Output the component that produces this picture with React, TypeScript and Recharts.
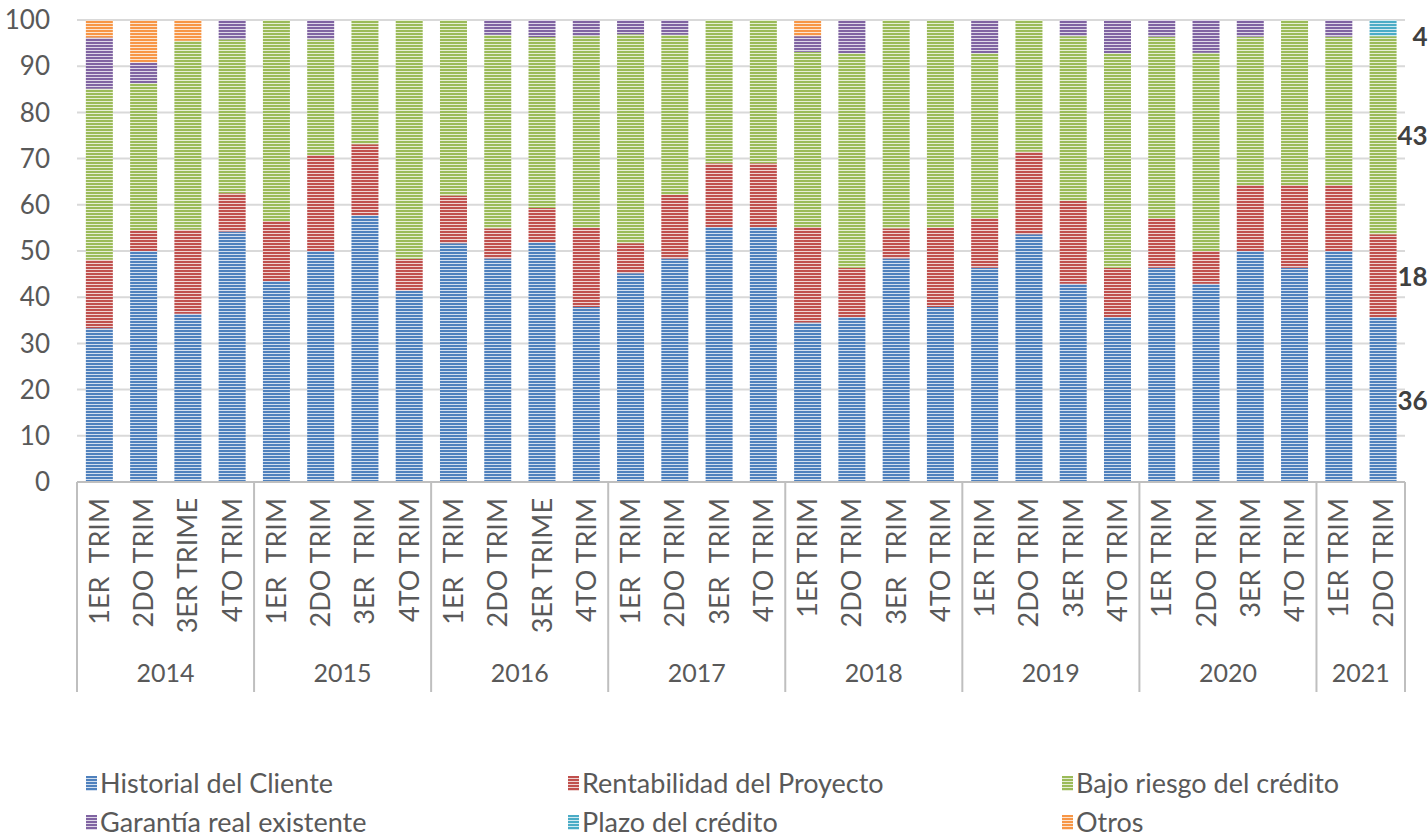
import React from 'react';
import { BarChart, Bar, XAxis, YAxis, CartesianGrid, LabelList } from 'recharts';

// quarter labels per bar (spacing kept as in the original sheet)
const quarters = [
  '1ER  TRIM', '2DO TRIM', '3ER TRIME', '4TO TRIM',
  '1ER  TRIM', '2DO TRIM', '3ER  TRIM', '4TO TRIM',
  '1ER  TRIM', '2DO TRIM', '3ER TRIME', '4TO TRIM',
  '1ER  TRIM', '2DO TRIM', '3ER  TRIM', '4TO TRIM',
  '1ER TRIM', '2DO TRIM', '3ER  TRIM', '4TO TRIM',
  '1ER TRIM', '2DO TRIM', '3ER TRIM', '4TO TRIM',
  '1ER TRIM', '2DO TRIM', '3ER TRIM', '4TO TRIM',
  '1ER TRIM', '2DO TRIM',
];

const years = [
  '2014', '2014', '2014', '2014',
  '2015', '2015', '2015', '2015',
  '2016', '2016', '2016', '2016',
  '2017', '2017', '2017', '2017',
  '2018', '2018', '2018', '2018',
  '2019', '2019', '2019', '2019',
  '2020', '2020', '2020', '2020',
  '2021', '2021',
];

const historial = [33.3, 50, 36.4, 54.2, 43.5, 50, 57.7, 41.4, 51.7, 48.4, 51.9, 37.9, 45.2, 48.4, 55.2, 55.2, 34.5, 35.7, 48.4, 37.9, 46.4, 53.6, 42.9, 35.7, 46.4, 42.9, 50, 46.4, 50, 35.7];
const rentabilidad = [14.8, 4.5, 18.2, 8.3, 13, 20.8, 15.4, 6.9, 10.3, 6.5, 7.4, 17.2, 6.5, 13.7, 13.8, 13.8, 20.7, 10.7, 6.5, 17.2, 10.7, 17.9, 17.9, 10.7, 10.7, 7.1, 14.3, 17.9, 14.3, 17.9];
const bajoRiesgo = [37, 31.8, 40.9, 33.3, 43.5, 25, 26.9, 51.7, 38, 41.9, 37, 41.4, 45.2, 34.7, 31, 31, 37.9, 46.4, 45.2, 44.8, 35.7, 28.6, 35.7, 46.4, 39.3, 42.9, 32.1, 35.7, 32.1, 42.9];
const garantia = [11.1, 4.5, 0, 4.2, 0, 4.2, 0, 0, 0, 3.2, 3.7, 3.4, 3.2, 3.2, 0, 0, 3.4, 7.1, 0, 0, 7.1, 0, 3.6, 7.1, 3.6, 7.1, 3.6, 0, 3.6, 0];
const plazo = [0, 0, 0, 0, 0, 0, 0, 0, 0, 0, 0, 0, 0, 0, 0, 0, 0, 0, 0, 0, 0, 0, 0, 0, 0, 0, 0, 0, 0, 3.6];
const otros = [3.7, 9.1, 4.5, 0, 0, 0, 0, 0, 0, 0, 0, 0, 0, 0, 0, 0, 3.4, 0, 0, 0, 0, 0, 0, 0, 0, 0, 0, 0, 0, 0];

const yTicks = [0, 10, 20, 30, 40, 50, 60, 70, 80, 90, 100];

const series = [
  { key: 'historial', name: 'Historial del Cliente', color: '#4F81BD', light: '#d3dfef' },
  { key: 'rentabilidad', name: 'Rentabilidad del Proyecto', color: '#C0504D', light: '#efd3d2' },
  { key: 'bajo', name: 'Bajo riesgo del crédito', color: '#9BBB59', light: '#e6eed5' },
  { key: 'garantia', name: 'Garantía real existente', color: '#8064A2', light: '#dfd8e8' },
  { key: 'plazo', name: 'Plazo del crédito', color: '#4BACC6', light: '#d2eaf1' },
  { key: 'otros', name: 'Otros', color: '#F79646', light: '#fde5d1' },
];

const data = quarters.map((q, i) => ({
  id: `${years[i]}-${i}`,
  q,
  year: years[i],
  historial: historial[i],
  rentabilidad: rentabilidad[i],
  bajo: bajoRiesgo[i],
  garantia: garantia[i],
  plazo: plazo[i],
  otros: otros[i],
}));

const lastId = data[data.length - 1].id;

const FONT = "Lato, 'Open Sans', sans-serif";
const TEXT = '#595959';
const LINE = '#bfbfbf';

const CategoryTick = (props: any) => {
  const { x, y, payload } = props;
  const i = payload?.index ?? props.index;
  const half = payload?.offset || 44.27 / 2;
  const row = data[i];
  if (!row) return null;
  const isFirst = i === 0 || data[i - 1].year !== row.year;
  const isLast = i === data.length - 1;
  let groupSize = 0;
  for (const d of data) if (d.year === row.year) groupSize++;
  return (
    <g>
      <text
        transform={`translate(${x}, ${y + 16}) rotate(-90)`}
        textAnchor="end"
        dy="0.36em"
        fontSize={27}
        fill={TEXT}
        fontFamily={FONT}
        style={{ whiteSpace: 'pre' }}
      >
        {row.q}
      </text>
      {isFirst && (
        <>
          <line x1={x - half} x2={x - half} y1={y} y2={y + 210} stroke={LINE} strokeWidth={2} />
          <text
            x={x - half + groupSize * half}
            y={y + 200}
            textAnchor="middle"
            fontSize={25}
            fill={TEXT}
            fontFamily={FONT}
          >
            {row.year}
          </text>
        </>
      )}
      {isLast && <line x1={x + half} x2={x + half} y1={y} y2={y + 210} stroke={LINE} strokeWidth={2} />}
    </g>
  );
};

const EndLabel = (props: any) => {
  const { x, y, width, height, value } = props;
  if (value == null || !value) return null;
  // keep the small top label clear of the chart's upper edge
  const cy = Math.max(Number(y) + Number(height) / 2, 36);
  return (
    <text
      x={Number(x) + Number(width) + 31}
      y={cy}
      textAnchor="end"
      dominantBaseline="central"
      fontSize={26}
      fontWeight="bold"
      fill="#404040"
      fontFamily={FONT}
    >
      {Math.round(value)}
    </text>
  );
};

const stripe = (s: { color: string; light: string }) =>
  `repeating-linear-gradient(to bottom, ${s.color} 0px, ${s.color} 2px, ${s.light} 2px, ${s.light} 3px)`;

const legendCols = [86, 568, 1062];

export default function App() {
  return (
    <div style={{ position: 'relative', width: 1428, height: 839, background: '#fff', fontFamily: FONT, overflow: 'hidden' }}>
      <style>{'body{margin:0}'}</style>
      <svg width={0} height={0} style={{ position: 'absolute' }}>
        <defs>
          {series.map((s) => (
            <pattern key={s.key} id={`stripe-${s.key}`} width={8} height={3} patternUnits="userSpaceOnUse">
              <rect width={8} height={3} fill={s.light} />
              <rect width={8} height={2} fill={s.color} />
            </pattern>
          ))}
        </defs>
      </svg>
      <BarChart
        width={1428}
        height={720}
        data={data}
        margin={{ top: 20, right: 23, left: 0, bottom: 0 }}
        barCategoryGap="20%"
      >
        <CartesianGrid vertical={false} stroke="#d9d9d9" strokeWidth={2} />
        <XAxis
          dataKey="id"
          interval={0}
          height={238}
          tickLine={false}
          tickSize={0}
          tickMargin={0}
          axisLine={{ stroke: LINE, strokeWidth: 2 }}
          tick={<CategoryTick />}
        />
        <YAxis
          domain={[0, 100]}
          allowDataOverflow
          ticks={yTicks}
          width={77}
          axisLine={false}
          tickLine={false}
          tickSize={0}
          tickMargin={27}
          tick={{ fontSize: 26, fill: TEXT, fontFamily: FONT }}
        />
        {series.map((s) => (
          <Bar
            key={s.key}
            dataKey={s.key}
            name={s.name}
            stackId="a"
            fill={`url(#stripe-${s.key})`}
            isAnimationActive={false}
          >
            <LabelList
              dataKey={(d: any) => (d.id === lastId ? d[s.key] : null)}
              content={<EndLabel />}
            />
          </Bar>
        ))}
      </BarChart>
      {series.map((s, i) => (
        <div
          key={s.key}
          style={{
            position: 'absolute',
            left: legendCols[i % 3],
            top: i < 3 ? 769 : 808,
            display: 'flex',
            alignItems: 'center',
            fontSize: 27,
            color: TEXT,
            lineHeight: '28px',
          }}
        >
          <span style={{ display: 'inline-block', width: 11, height: 15, marginRight: 3, background: stripe(s) }} />
          {s.name}
        </div>
      ))}
    </div>
  );
}
